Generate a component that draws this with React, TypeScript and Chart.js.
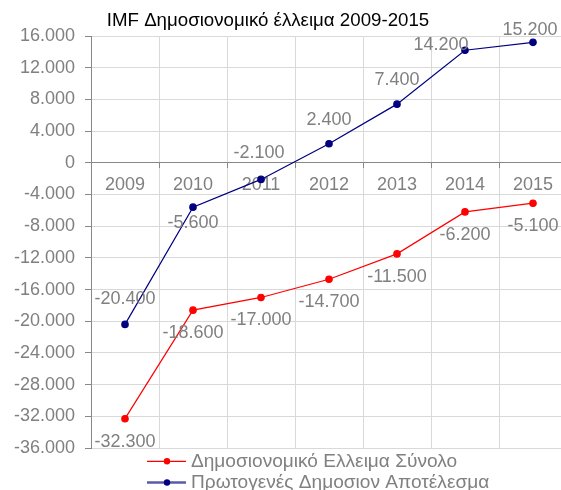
import React, { useEffect, useRef } from 'react';
import { Chart, registerables } from 'chart.js';

Chart.register(...registerables);

const years = ['2009', '2010', '2011', '2012', '2013', '2014', '2015'];
const totalDeficit = [-32300, -18600, -17000, -14700, -11500, -6200, -5100];
const primaryBalance = [-20400, -5600, -2100, 2400, 7400, 14200, 15200];
const seriesNames = ['Δημοσιονομικό Ελλειμα Σύνολο', 'Πρωτογενές Δημοσιον Αποτέλεσμα'];
const titleText = 'IMF Δημοσιονομικό έλλειμα 2009-2015';
const yMin = -36000;
const yMax = 16000;
const yStep = 4000;

// label placement offsets (style only)
const redLabelOffsets = [[0, 23], [0, 23], [0, 23], [0, 23], [0, 23], [0, 23], [0, 23]];
const blueLabelOffsets = [[0, -25], [0, 16], [-2, -26], [0, -23.5], [0, -24], [-24, -5], [-3, -12]];

const FONT = '"Liberation Sans", Arial, sans-serif';
const GRAY = '#808080';
const RED = '#ff0000';
const NAVY = '#000080';

function fmt(v: number): string {
  const s = Math.abs(v).toString().replace(/\B(?=(\d{3})+(?!\d))/g, '.');
  return (v < 0 ? '-' : '') + s;
}

const overlayPlugin = {
  id: 'overlay',
  afterDraw(chart: any) {
    const ctx = chart.ctx;
    ctx.save();
    // data labels
    ctx.font = `18px ${FONT}`;
    ctx.fillStyle = GRAY;
    ctx.textAlign = 'center';
    ctx.textBaseline = 'middle';
    const offs = [redLabelOffsets, blueLabelOffsets];
    chart.data.datasets.forEach((ds: any, di: number) => {
      const meta = chart.getDatasetMeta(di);
      meta.data.forEach((el: any, i: number) => {
        const [dx, dy] = offs[di][i];
        ctx.fillText(fmt(ds.data[i]), el.x + dx, el.y + dy);
      });
    });
    // title
    ctx.font = `18.7px ${FONT}`;
    ctx.fillStyle = '#000000';
    ctx.fillText(titleText, 268, 20.5);
    // legend
    const items = [
      { line: RED, lw: 1.2, point: RED, y: 461.3 },
      { line: '#5a5aa8', lw: 2.5, point: NAVY, y: 482.5 },
    ];
    items.forEach((it, i) => {
      ctx.strokeStyle = it.line;
      ctx.lineWidth = it.lw;
      ctx.beginPath();
      ctx.moveTo(147, it.y);
      ctx.lineTo(186, it.y);
      ctx.stroke();
      ctx.fillStyle = it.point;
      ctx.beginPath();
      ctx.arc(167, it.y, 3.2, 0, Math.PI * 2);
      ctx.fill();
      ctx.font = `19.1px ${FONT}`;
      ctx.fillStyle = GRAY;
      ctx.textAlign = 'left';
      ctx.fillText(seriesNames[i], 191, it.y);
    });
    ctx.restore();
  },
};

export default function App() {
  const ref = useRef<HTMLCanvasElement>(null);
  useEffect(() => {
    if (!ref.current) return;
    const chart = new Chart(ref.current, {
      type: 'line',
      data: {
        labels: years,
        datasets: [
          {
            label: seriesNames[0],
            data: totalDeficit,
            borderColor: RED,
            backgroundColor: RED,
            borderWidth: 1.2,
            pointRadius: 3.2,
            pointBackgroundColor: RED,
            pointBorderColor: RED,
            tension: 0,
          },
          {
            label: seriesNames[1],
            data: primaryBalance,
            borderColor: NAVY,
            backgroundColor: NAVY,
            borderWidth: 1.2,
            pointRadius: 3.2,
            pointBackgroundColor: NAVY,
            pointBorderColor: NAVY,
            tension: 0,
          },
        ],
      },
      options: {
        responsive: false,
        animation: false,
        devicePixelRatio: 1,
        layout: { padding: { left: 0, right: 13, top: 36, bottom: 42 } },
        plugins: {
          legend: { display: false },
          title: { display: false },
          tooltip: { enabled: false },
        },
        scales: {
          x: {
            type: 'category',
            position: { y: 0 } as any,
            offset: true,
            grid: {
              offset: true,
              color: '#d9d9d9',
              lineWidth: 1,
              tickLength: 5,
              tickColor: '#888888',
            },
            border: { color: '#888888', width: 1 },
            ticks: {
              color: GRAY,
              font: { family: FONT, size: 18 },
              padding: 6,
              maxRotation: 0,
              autoSkip: false,
            },
          },
          y: {
            min: yMin,
            max: yMax,
            afterFit: (s: any) => {
              s.width = 91;
            },
            grid: {
              color: '#d9d9d9',
              borderDash: [2, 2],
              tickBorderDash: [],
              tickColor: '#888888',
              tickLength: 6,
            },
            border: { color: '#888888', width: 1 },
            ticks: {
              stepSize: yStep,
              color: GRAY,
              font: { family: FONT, size: 18 },
              padding: 10,
              callback: (v: any) => fmt(Number(v)),
            },
          },
        },
      },
      plugins: [overlayPlugin],
    });
    return () => chart.destroy();
  }, []);
  return (
    <div style={{ position: 'fixed', left: 0, top: 0, width: 561, height: 490, overflow: 'hidden', background: '#ffffff' }}>
      <canvas ref={ref} width={580} height={490} style={{ width: 580, height: 490, display: 'block' }} />
    </div>
  );
}
